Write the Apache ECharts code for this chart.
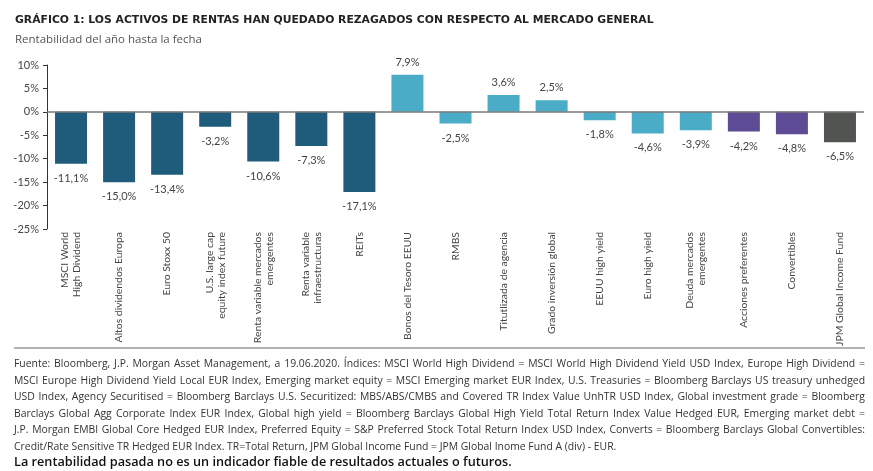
<!DOCTYPE html>
<html>
<head>
<meta charset="utf-8">
<script src="https://cdn.jsdelivr.net/npm/echarts@6/dist/echarts.min.js"></script>
<style>
html,body{margin:0;padding:0;background:#fff;}
#c{width:873px;height:471px;}
</style>
</head>
<body>
<div id="c"></div>
<script>
const categories = [
  "MSCI World\nHigh Dividend",
  "Altos dividendos Europa",
  "Euro Stoxx 50",
  "U.S. large cap\nequity index future",
  "Renta variable mercados\nemergentes",
  "Renta variable\ninfraestructuras",
  "REITs",
  "Bonos del Tesoro EEUU",
  "RMBS",
  "Titutlizada de agencia",
  "Grado inversión global",
  "EEUU high yield",
  "Euro high yield",
  "Deuda mercados\nemergentes",
  "Acciones preferentes",
  "Convertibles",
  "JPM Global Income Fund"
];
const values = [-11.1, -15.0, -13.4, -3.2, -10.6, -7.3, -17.1, 7.9, -2.5, 3.6, 2.5, -1.8, -4.6, -3.9, -4.2, -4.8, -6.5];
const groups = ["eq","eq","eq","eq","eq","eq","eq","fi","fi","fi","fi","fi","fi","fi","hy","hy","fund"];
const groupColors = {eq:"#1F5C7B", fi:"#4AACC7", hy:"#5E4B95", fund:"#525452"};
const yTicks = {min:-25, max:10, interval:5};
const titleText = "GRÁFICO 1: LOS ACTIVOS DE RENTAS HAN QUEDADO REZAGADOS CON RESPECTO AL MERCADO GENERAL";
const subtitleText = "Rentabilidad del año hasta la fecha";
const footnoteLines = [
  "Fuente: Bloomberg, J.P. Morgan Asset Management, a 19.06.2020. Índices: MSCI World High Dividend = MSCI World High Dividend Yield USD Index, Europe High Dividend =",
  "MSCI Europe High Dividend Yield Local EUR Index, Emerging market equity = MSCI Emerging market EUR Index, U.S. Treasuries = Bloomberg Barclays US treasury unhedged",
  "USD Index, Agency Securitised = Bloomberg Barclays U.S. Securitized: MBS/ABS/CMBS and Covered TR Index Value UnhTR USD Index, Global investment grade = Bloomberg",
  "Barclays Global Agg Corporate Index EUR Index, Global high yield = Bloomberg Barclays Global High Yield Total Return Index Value Hedged EUR, Emerging market debt =",
  "J.P. Morgan EMBI Global Core Hedged EUR Index, Preferred Equity = S&P Preferred Stock Total Return Index USD Index, Converts = Bloomberg Barclays Global Convertibles:",
  "Credit/Rate Sensitive TR Hedged EUR Index. TR=Total Return, JPM Global Income Fund = JPM Global Inome Fund A (div) - EUR."
];
const disclaimer = "La rentabilidad pasada no es un indicador fiable de resultados actuales o futuros.";

const FONT = "'Open Sans', 'Noto Sans', sans-serif";
const LFONT = "Lato, 'Open Sans', sans-serif";
const fmt = v => v.toFixed(1).replace('.', ',') + '%';

const chart = echarts.init(document.getElementById('c'));

const dataItems = values.map((v, i) => ({
  value: v,
  itemStyle: {color: groupColors[groups[i]]},
  label: {position: v >= 0 ? 'top' : 'bottom', distance: v >= 0 ? 7 : 9}
}));

// footnote: justified lines (layout only)
const FN_FONT = "10.4px " + FONT;
const FN_LEFT = 14, FN_RIGHT = 865;
const ctx = document.createElement('canvas').getContext('2d');
ctx.font = FN_FONT;
const graphics = [
  {type:'line', shape:{x1:14, y1:348, x2:865, y2:348}, style:{stroke:'#9a9a9a', lineWidth:1.5}, silent:true}
];
footnoteLines.forEach((t, i) => {
  const top = 359 + i * 16.6;
  if (i === footnoteLines.length - 1) {
    graphics.push({type:'text', x:FN_LEFT, y:top, style:{text:t, font:FN_FONT, fill:'#333'}, silent:true});
    return;
  }
  const words = t.split(' ');
  const wsum = words.reduce((s, w) => s + ctx.measureText(w).width, 0);
  const gap = (FN_RIGHT - FN_LEFT - wsum) / (words.length - 1);
  let x = FN_LEFT;
  words.forEach(w => {
    graphics.push({type:'text', x:x, y:top, style:{text:w, font:FN_FONT, fill:'#333'}, silent:true});
    x += ctx.measureText(w).width + gap;
  });
});
graphics.push({type:'text', x:14, y:456, style:{text:disclaimer, font:"600 12.7px " + FONT, fill:'#111'}, silent:true});

chart.setOption({
  animation:false,
  title:[
    {text:titleText, left:10, top:10, textStyle:{fontFamily:"'DejaVu Sans', sans-serif", fontSize:10.8, fontWeight:'bold', color:'#222'}},
    {text:subtitleText, left:10, top:29, textStyle:{fontFamily:FONT, fontSize:11.5, fontWeight:'normal', color:'#555'}}
  ],
  grid:{left:47, right:9, top:65, bottom:242, containLabel:false},
  xAxis:{
    type:'category',
    data:categories,
    axisLine:{show:false},
    axisTick:{show:false},
    axisLabel:{rotate:90, interval:0, margin:3, fontFamily:LFONT, fontSize:10.4, color:'#444', lineHeight:12}
  },
  yAxis:{
    type:'value',
    min:yTicks.min, max:yTicks.max, interval:yTicks.interval,
    axisLine:{show:true, lineStyle:{color:'#333', width:1}},
    axisTick:{show:true, length:4, lineStyle:{color:'#333'}},
    splitLine:{show:false},
    axisLabel:{formatter:'{value}%', fontFamily:LFONT, fontSize:11, color:'#444', margin:8}
  },
  series:[{
    type:'bar',
    data:dataItems,
    barWidth:32,
    label:{show:true, formatter:p => fmt(p.value), fontFamily:LFONT, fontSize:11, color:'#444'},
    markLine:{
      silent:true, symbol:['none','none'], label:{show:false},
      lineStyle:{color:'#7a7a7a', width:1.5, type:'solid'},
      data:[{yAxis:0}]
    }
  }],
  graphic:graphics
});
</script>
</body>
</html>
